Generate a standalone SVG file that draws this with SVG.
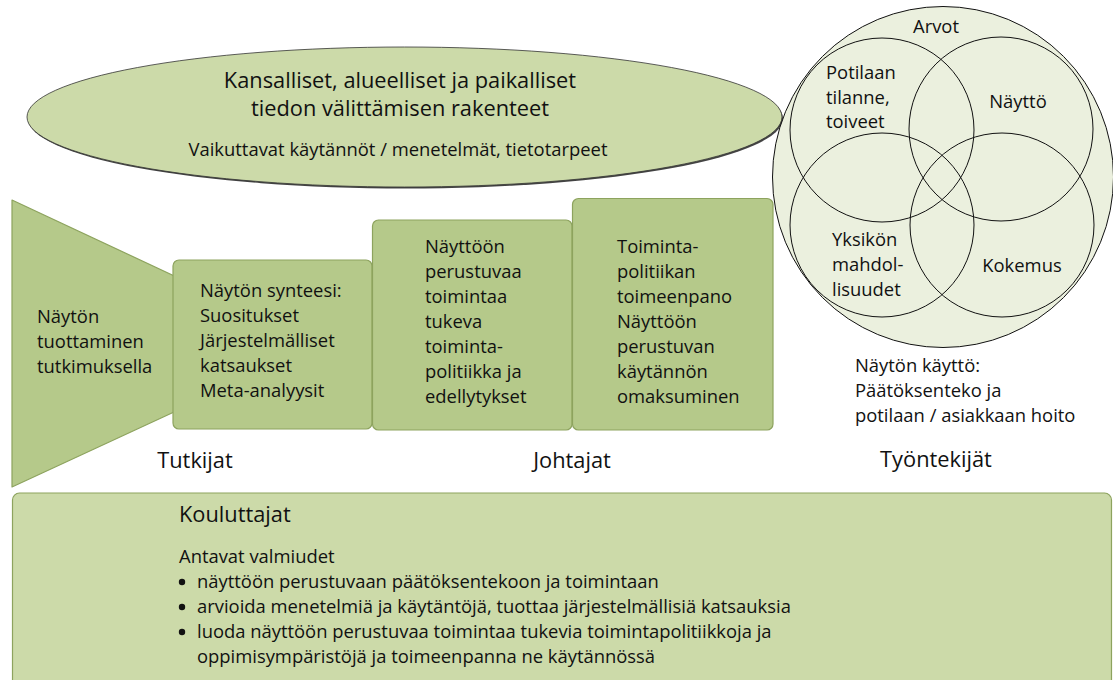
<svg xmlns="http://www.w3.org/2000/svg" width="1113" height="680" viewBox="0 0 1113 680">
<style>
text{font-family:"Open Sans","Liberation Sans",sans-serif;fill:#111;}
.b{font-size:18.4px;}
.h{font-size:21.8px;}
.s{font-size:18.4px;}
.g{fill:#b5c98a;stroke:#8da35e;stroke-width:1.2;}
.l{fill:#ccdaa9;stroke:#8da35e;stroke-width:1.2;}
.v{fill:none;stroke:#111;stroke-width:1;}
</style>
<rect width="1113" height="680" fill="#fff"/>
<g id="ellipse">
<ellipse cx="405.5" cy="118.5" rx="377.5" ry="70" fill="#444"/>
<ellipse cx="404.5" cy="117" rx="377.5" ry="70" fill="#ccdaa9" stroke="#333" stroke-width="0.8"/>
<text class="h" x="400" y="88" text-anchor="middle">Kansalliset, alueelliset ja paikalliset</text>
<text class="h" x="400" y="116" text-anchor="middle">tiedon välittämisen rakenteet</text>
<text class="s" x="398" y="156" text-anchor="middle">Vaikuttavat käytännöt / menetelmät, tietotarpeet</text>
</g>
<g id="venn">
<circle cx="943" cy="177" r="170.5" fill="#ebf0de" stroke="#111" stroke-width="1"/>
<circle class="v" cx="882" cy="130" r="92"/>
<circle class="v" cx="1001" cy="129" r="92"/>
<circle class="v" cx="882" cy="225" r="92"/>
<circle class="v" cx="1002" cy="225" r="92"/>
<text class="b" x="936" y="33" text-anchor="middle">Arvot</text>
<text class="b" x="826" y="79">Potilaan</text>
<text class="b" x="826" y="104">tilanne,</text>
<text class="b" x="826" y="128">toiveet</text>
<text class="b" x="1018" y="108" text-anchor="middle">Näyttö</text>
<text class="b" x="832" y="246">Yksikön</text>
<text class="b" x="832" y="271">mahdol-</text>
<text class="b" x="832" y="296">lisuudet</text>
<text class="b" x="1022" y="272" text-anchor="middle">Kokemus</text>
</g>
<g id="trapezoid">
<polygon class="g" stroke-linejoin="round" points="12,200 200,288 200,400 12,487"/>
<text class="b" x="37" y="323">Näytön</text>
<text class="b" x="37" y="348">tuottaminen</text>
<text class="b" x="37" y="373">tutkimuksella</text>
</g>
<g id="box1">
<rect class="g" x="173" y="260" width="199" height="169" rx="6"/>
<text class="b" x="200" y="297">Näytön synteesi:</text>
<text class="b" x="200" y="322">Suositukset</text>
<text class="b" x="200" y="347">Järjestelmälliset</text>
<text class="b" x="200" y="372">katsaukset</text>
<text class="b" x="200" y="397">Meta-analyysit</text>
</g>
<g id="box2">
<rect class="g" x="372.5" y="220" width="199.5" height="210" rx="6"/>
<text class="b" x="425" y="253">Näyttöön</text>
<text class="b" x="425" y="278">perustuvaa</text>
<text class="b" x="425" y="303">toimintaa</text>
<text class="b" x="425" y="328">tukeva</text>
<text class="b" x="425" y="353">toiminta-</text>
<text class="b" x="425" y="378">politiikka ja</text>
<text class="b" x="425" y="403">edellytykset</text>
</g>
<g id="box3">
<rect class="g" x="572.5" y="198.5" width="200.5" height="231.5" rx="6"/>
<text class="b" x="617" y="253">Toiminta-</text>
<text class="b" x="617" y="278">politiikan</text>
<text class="b" x="617" y="303">toimeenpano</text>
<text class="b" x="617" y="328">Näyttöön</text>
<text class="b" x="617" y="353">perustuvan</text>
<text class="b" x="617" y="378">käytännön</text>
<text class="b" x="617" y="403">omaksuminen</text>
</g>
<g id="use">
<text class="b" x="855" y="372">Näytön käyttö:</text>
<text class="b" x="855" y="397">Päätöksenteko ja</text>
<text class="b" x="855" y="422">potilaan / asiakkaan hoito</text>
</g>
<g id="roles">
<text class="h" x="195" y="468" text-anchor="middle">Tutkijat</text>
<text class="h" x="572" y="468" text-anchor="middle">Johtajat</text>
<text class="h" x="936" y="467" text-anchor="middle">Työntekijät</text>
</g>
<g id="educators">
<rect class="l" x="12.5" y="493" width="1099" height="200" rx="7"/>
<text class="h" x="179" y="522">Kouluttajat</text>
<text class="s" x="179" y="563">Antavat valmiudet</text>
<circle cx="182" cy="582" r="3.2" fill="#111"/>
<circle cx="182" cy="607" r="3.2" fill="#111"/>
<circle cx="182" cy="632" r="3.2" fill="#111"/>
<text class="s" x="197" y="588">näyttöön perustuvaan päätöksentekoon ja toimintaan</text>
<text class="s" x="197" y="613">arvioida menetelmiä ja käytäntöjä, tuottaa järjestelmällisiä katsauksia</text>
<text class="s" x="197" y="638">luoda näyttöön perustuvaa toimintaa tukevia toimintapolitiikkoja ja</text>
<text class="s" x="197" y="663">oppimisympäristöjä ja toimeenpanna ne käytännössä</text>
</g>
<g id="connectors"></g>
</svg>
